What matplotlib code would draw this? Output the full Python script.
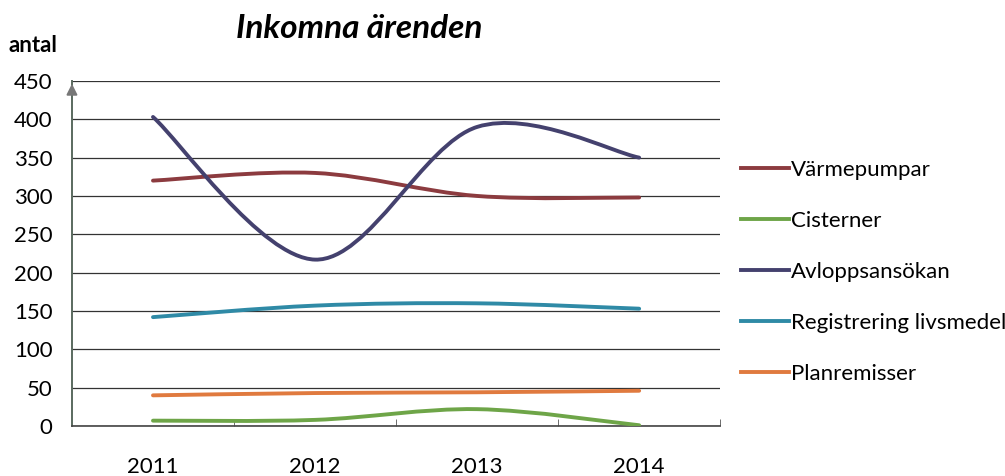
import numpy as np
import matplotlib
matplotlib.use("Agg")
import matplotlib.pyplot as plt
from matplotlib.path import Path
from matplotlib.patches import PathPatch
from matplotlib.lines import Line2D

plt.rcParams["font.family"] = ["Lato", "DejaVu Sans"]

years = [2011, 2012, 2013, 2014]
varmepumpar = [320, 330, 300, 298]
cisterner = [7, 8, 22, 1]
avlopp = [403, 217, 390, 350]
registrering = [142, 157, 160, 153]
planremisser = [40, 43, 44, 46]

names = ["Värmepumpar", "Cisterner", "Avloppsansökan", "Registrering livsmedel", "Planremisser"]
series = [varmepumpar, cisterner, avlopp, registrering, planremisser]
colors = ["#8c3b3f", "#6ea548", "#44416e", "#2f8aa6", "#e07a3f"]


def smooth_path(x, y):
    # cubic bezier through the points, Catmull-Rom style tangents
    x = np.asarray(x, float)
    y = np.asarray(y, float)
    verts = [(x[0], y[0])]
    codes = [Path.MOVETO]
    n = len(x)
    for i in range(n - 1):
        p0 = (x[max(i - 1, 0)], y[max(i - 1, 0)])
        p1 = (x[i], y[i])
        p2 = (x[i + 1], y[i + 1])
        p3 = (x[min(i + 2, n - 1)], y[min(i + 2, n - 1)])
        c1 = (p1[0] + (p2[0] - p0[0]) / 6, p1[1] + (p2[1] - p0[1]) / 6)
        c2 = (p2[0] - (p3[0] - p1[0]) / 6, p2[1] - (p3[1] - p1[1]) / 6)
        verts += [c1, c2, p2]
        codes += [Path.CURVE4] * 3
    return Path(verts, codes)


fig = plt.figure(figsize=(10.05, 4.76), dpi=100)
ax = fig.add_axes([0.0716, 0.105, 0.645, 0.725])

for vals, c in zip(series, colors):
    patch = PathPatch(smooth_path(years, vals), facecolor="none", edgecolor=c,
                      lw=2.8, capstyle="round", zorder=3)
    ax.add_patch(patch)

ax.set_xlim(2010.5, 2014.5)
ax.set_ylim(0, 450)
ax.set_yticks(range(0, 451, 50))
ax.set_xticks(years)
ax.tick_params(axis="y", length=0, labelsize=16, pad=14)
ax.tick_params(axis="x", length=0, labelsize=16, pad=22)
ax.set_xticks([2011.5, 2012.5, 2013.5, 2014.5], minor=True)
ax.tick_params(axis="x", which="minor", direction="in", length=5, color="#555555")
ax.yaxis.grid(True, color="#333333", lw=0.9)
ax.set_axisbelow(True)

for s in ["top", "right"]:
    ax.spines[s].set_visible(False)
ax.spines["left"].set_color("#5a6a5f")
ax.spines["left"].set_linewidth(1.4)
ax.spines["bottom"].set_color("#444444")
ax.spines["bottom"].set_linewidth(1.2)
ax.annotate("", xy=(0, 1.0), xycoords="axes fraction", xytext=(0, 0.955),
            arrowprops=dict(arrowstyle="-|>", color="#777777", lw=1.4, mutation_scale=16))

fig.text(0.357, 0.94, "Inkomna ärenden", fontsize=24, fontweight="bold",
         fontstyle="italic", ha="center", va="center")
fig.text(0.008, 0.905, "antal", fontsize=16, fontweight="bold", ha="left", va="center")

handles = [Line2D([], [], color=c, lw=2.8) for c in colors]
leg = fig.legend(handles, names, loc="upper left", bbox_to_anchor=(0.728, 0.683),
                 frameon=False, fontsize=16, handlelength=2.2, handletextpad=0.05,
                 labelspacing=1.4, borderaxespad=0)

fig.savefig("out.png", dpi=100)
